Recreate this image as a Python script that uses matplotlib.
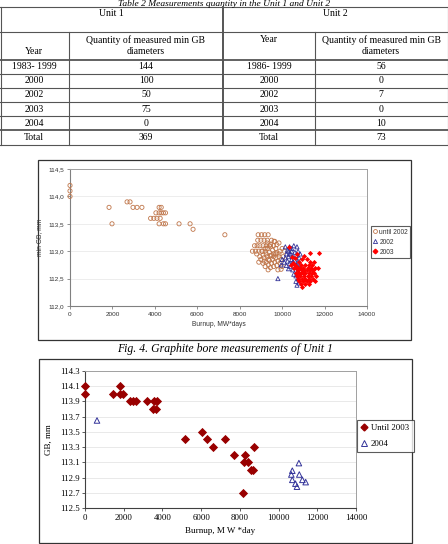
"""Table 2 and graphite bore measurements of Unit 1 / Unit 2."""

import matplotlib
matplotlib.use("Agg")
import matplotlib.pyplot as plt
from matplotlib.lines import Line2D
from matplotlib.ticker import FuncFormatter, MultipleLocator

# Table data
units = ["Unit 1", "Unit 2"]
years_u1 = ["1983- 1999", "2000", "2002", "2003", "2004", "Total"]
counts_u1 = ["144", "100", "50", "75", "0", "369"]
years_u2 = ["1986- 1999", "2000", "2002", "2003", "2004", "Total"]
counts_u2 = ["56", "0", "7", "0", "10", "73"]

# Fig. 4 data (Unit 1)
until2002_burnup = [0, 0, 0, 1840, 1980, 2690, 2830, 2970, 3160, 3390,
                    4200, 4300, 4050, 4200, 4300, 4400, 4500,
                    3800, 3950, 4100, 4250, 4200, 4400, 4500,
                    5140, 5660, 5800, 7300,
                    8870, 9030, 9180, 9340, 8850, 9000, 9150, 9300, 9620,
                    8700, 8820, 8950, 9100, 9250, 9400,
                    8600, 8750, 8900, 9050, 9200,
                    9300, 9450, 9600, 9750, 9850, 9700, 9550, 9400, 9250, 9100,
                    8950, 9000, 9150, 9300, 9450, 9600, 9750, 9900, 10000, 9850,
                    9700, 9550, 9400, 9250, 9100, 9200, 9350, 9500, 9650, 9800,
                    9950, 9900, 9750, 9600, 9450, 9340, 9800, 9950, 10050, 10100,
                    9650, 9500, 8800, 9050, 9200, 9600, 9350, 9150, 8900, 9700,
                    9500, 10000, 9850, 9450, 9300]
until2002_gb = [114.2, 114.1, 114.0, 113.8, 113.5, 113.9, 113.9, 113.8, 113.8, 113.8,
                113.8, 113.8, 113.7, 113.7, 113.7, 113.7, 113.7,
                113.6, 113.6, 113.6, 113.6, 113.5, 113.5, 113.5,
                113.5, 113.5, 113.4, 113.3,
                113.3, 113.3, 113.3, 113.3, 113.2, 113.2, 113.2, 113.2, 113.18,
                113.1, 113.1, 113.1, 113.1, 113.1, 113.1,
                113.0, 113.0, 113.0, 113.0, 113.0,
                113.05, 113.08, 113.1, 113.12, 113.15, 113.05, 113.02, 112.98, 112.95, 112.93,
                112.9, 112.85, 112.88, 112.9, 112.92, 112.95, 112.97, 113.0, 113.05, 112.9,
                112.88, 112.85, 112.83, 112.8, 112.78, 112.72, 112.75, 112.78, 112.8, 112.82,
                112.85, 112.78, 112.74, 112.72, 112.7, 112.66, 112.66, 112.67, 112.9, 113.0,
                113.18, 113.2, 112.95, 113.0, 113.05, 112.9, 112.85, 112.82, 112.8, 112.95,
                112.93, 112.72, 112.95, 113.12, 113.15]

y2002_burnup = [10150, 10350, 10300, 10450, 10550, 10700, 10200, 10400, 10600, 10750,
                10150, 10300, 10500, 10650, 10800, 10250, 10450, 10600, 10750, 10100,
                10350, 10550, 10700, 10200, 10400, 10600, 10800, 10300, 10500, 10700,
                10550, 10650, 10750, 10650, 10800, 10700, 9800, 10000, 9950, 10800,
                10450, 10250, 10850, 10500, 10350]
y2002_gb = [113.08, 113.08, 113.0, 113.05, 113.1, 113.08, 112.95, 112.95, 112.98, 113.0,
            112.88, 112.9, 112.9, 112.92, 112.88, 112.82, 112.85, 112.84, 112.8, 112.8,
            112.78, 112.78, 112.75, 112.74, 112.72, 112.7, 112.7, 112.68, 112.66, 112.62,
            112.58, 112.55, 112.5, 112.45, 112.42, 112.38, 112.5, 112.85, 112.75, 112.6,
            113.0, 113.02, 112.95, 112.8, 112.95]

y2003_burnup = [10330, 11310, 11740, 10500, 10700,
                10950, 11150, 10800, 11300, 11500,
                10600, 10900, 11100, 11250, 11400,
                10700, 10850, 11000, 11200, 11350, 11550, 11700,
                10750, 10950, 11050, 11150, 11300, 11450,
                10650, 10800, 10900, 11000, 11100, 11250, 11400, 11500,
                10700, 10850, 11050, 11200, 11350, 11600,
                10750, 10950, 11100, 11250, 11450,
                10800, 11000, 11150, 11300, 11550,
                10900, 11100, 11250, 10950,
                10550, 10400, 10600, 10450, 11050, 10700]
y2003_gb = [113.08, 112.97, 112.97, 112.78, 112.72,
            112.85, 112.85, 112.8, 112.8, 112.8,
            112.75, 112.75, 112.75, 112.75, 112.75,
            112.7, 112.7, 112.7, 112.7, 112.7, 112.7, 112.7,
            112.65, 112.65, 112.65, 112.65, 112.65, 112.65,
            112.6, 112.6, 112.6, 112.6, 112.6, 112.6, 112.6, 112.6,
            112.55, 112.55, 112.55, 112.55, 112.55, 112.55,
            112.5, 112.5, 112.5, 112.5, 112.5,
            112.45, 112.45, 112.45, 112.45, 112.45,
            112.4, 112.4, 112.4, 112.35,
            112.7, 112.75, 112.88, 112.9, 112.92, 112.95]

# Unit 2 data
until2003_burnup = [0, 1820, 0, 1430, 1790, 1960,
                    2300, 2470, 2650, 3210, 3560, 3730,
                    3500, 3680, 6030, 5190, 6310, 7250,
                    6600, 8710, 7700, 8250, 8230, 8400,
                    8570, 8680, 8140]
until2003_gb = [114.1, 114.1, 114.0, 114.0, 114.0, 114.0,
                113.9, 113.9, 113.9, 113.9, 113.9, 113.9,
                113.8, 113.8, 113.5, 113.4, 113.4, 113.4,
                113.3, 113.3, 113.2, 113.2, 113.1, 113.1,
                113.0, 113.0, 112.7]
y2004_burnup = [620, 11050, 10710, 10660, 11070, 10710, 11230, 10870, 11400, 10950]
y2004_gb = [113.65, 113.09, 112.99, 112.94, 112.94, 112.87, 112.87, 112.82, 112.84, 112.78]

W, H = 448, 544
fig = plt.figure(figsize=(W / 100, H / 100), dpi=100)

# background layer in pixel coordinates: table, frames, caption
bg = fig.add_axes([0, 0, 1, 1], zorder=0)
bg.set_xlim(0, W)
bg.set_ylim(H, 0)
bg.axis("off")

serif = "Liberation Serif"
sans = "Liberation Sans"
lc = "#555555"

bg.text(W / 2, 0.3, "Table 2 Measurements quantity in the Unit 1 and Unit 2",
        family=serif, style="italic", fontsize=6.8, ha="center", va="top")

hlines = [7, 32, 60, 73.5, 87.5, 102, 116, 130, 145]
for y in hlines:
    lw = 1.3 if y in (60, 130) else 0.8
    bg.plot([0, W], [y, y], color=lc, lw=lw)
bg.plot([0.5, 0.5], [7, 145], color=lc, lw=0.8)
bg.plot([447.5, 447.5], [7, 145], color=lc, lw=0.8)
bg.plot([223, 223], [7, 145], color=lc, lw=1.4)
bg.plot([69, 69], [32, 145], color=lc, lw=0.8)
bg.plot([315, 315], [32, 145], color=lc, lw=0.8)

tfs = 7
bg.text(111, 14, units[0], family=serif, fontsize=tfs, ha="center", va="center")
bg.text(335, 14, units[1], family=serif, fontsize=tfs, ha="center", va="center")
bg.text(34, 51, "Year", family=serif, fontsize=tfs, ha="center", va="center")
bg.text(146, 40, "Quantity of measured min GB", family=serif, fontsize=tfs, ha="center", va="center")
bg.text(146, 51, "diameters", family=serif, fontsize=tfs, ha="center", va="center")
bg.text(269, 40, "Year", family=serif, fontsize=tfs, ha="center", va="center")
bg.text(381, 40, "Quantity of measured min GB", family=serif, fontsize=tfs, ha="center", va="center")
bg.text(381, 51, "diameters", family=serif, fontsize=tfs, ha="center", va="center")
for i in range(len(years_u1)):
    yc = (hlines[i + 2] + hlines[i + 3]) / 2
    bg.text(34, yc, years_u1[i], family=serif, fontsize=tfs, ha="center", va="center")
    bg.text(146, yc, counts_u1[i], family=serif, fontsize=tfs, ha="center", va="center")
    bg.text(269, yc, years_u2[i], family=serif, fontsize=tfs, ha="center", va="center")
    bg.text(381, yc, counts_u2[i], family=serif, fontsize=tfs, ha="center", va="center")

# chart frames
bg.add_patch(plt.Rectangle((37.5, 159.5), 373, 180, fill=False, ec="#333333", lw=0.9))
bg.add_patch(plt.Rectangle((38.5, 358.5), 373, 184, fill=False, ec="#333333", lw=0.9))

bg.text(225, 349, "Fig. 4. Graphite bore measurements of Unit 1",
        family=serif, style="italic", fontsize=8.5, ha="center", va="center")


def style_axes(ax, spine_dark, grid_color):
    ax.set_facecolor("white")
    for s in ("left", "bottom"):
        ax.spines[s].set_color(spine_dark)
        ax.spines[s].set_linewidth(0.8)
    for s in ("top", "right"):
        ax.spines[s].set_color("#a0a0a0")
        ax.spines[s].set_linewidth(0.7)
    ax.grid(axis="y", color=grid_color, lw=0.5)
    ax.set_axisbelow(True)
    ax.tick_params(length=2, width=0.6, pad=2, color=spine_dark)


# ---- Chart 1 ----
ax1 = fig.add_axes([70 / W, 1 - 306 / H, 297 / W, 137 / H], zorder=1)
style_axes(ax1, "#808080", "#e6e6e6")
ax1.scatter(until2002_burnup, until2002_gb, s=9, marker="o", facecolors="none",
            edgecolors="#c0764a", linewidths=0.6, zorder=3, clip_on=False)
ax1.scatter(y2002_burnup, y2002_gb, s=9, marker="^", facecolors="none",
            edgecolors="#333399", linewidths=0.6, zorder=3, clip_on=False)
ax1.scatter(y2003_burnup, y2003_gb, s=7, marker="D", color="#ff0000",
            linewidths=0, zorder=4, clip_on=False)
ax1.set_xlim(0, 14000)
ax1.set_ylim(112.0, 114.5)
ax1.xaxis.set_major_locator(MultipleLocator(2000))
ax1.yaxis.set_major_locator(MultipleLocator(0.5))
ax1.yaxis.set_major_formatter(FuncFormatter(lambda v, p: f"{v:.1f}".replace(".", ",")))
for lab in ax1.get_xticklabels() + ax1.get_yticklabels():
    lab.set_family(sans)
    lab.set_fontsize(4.6)
    lab.set_color("#333333")
ax1.set_xlabel("Burnup, MW*days", family=sans, fontsize=4.8, color="#333333", labelpad=3)
ax1.set_ylabel("min GB, mm", family=sans, fontsize=4.8, color="#333333", labelpad=4)
h1 = [Line2D([], [], ls="none", marker="o", mfc="none", mec="#c0764a", ms=2.8, mew=0.6),
      Line2D([], [], ls="none", marker="^", mfc="none", mec="#333399", ms=3, mew=0.6),
      Line2D([], [], ls="none", marker="D", color="#ff0000", ms=2.3)]
leg1 = ax1.legend(h1, ["until 2002", "2002", "2003"], loc="center left",
                  bbox_to_anchor=(371 / W, 1 - 242 / H), bbox_transform=fig.transFigure,
                  frameon=True, fancybox=False, edgecolor="#333333",
                  prop={"family": sans, "size": 4.8}, handlelength=0.6,
                  handletextpad=0.3, borderpad=0.35, labelspacing=0.45,
                  borderaxespad=0)
leg1.get_frame().set_linewidth(0.8)
for t in leg1.get_texts():
    t.set_color("#333333")

# ---- Chart 2 ----
ax2 = fig.add_axes([85 / W, 1 - 508 / H, 271 / W, 137 / H], zorder=1)
style_axes(ax2, "#404040", "#e0e0e0")
ax2.scatter(until2003_burnup, until2003_gb, s=22, marker="D", color="#990000",
            linewidths=0, zorder=4, clip_on=False)
ax2.scatter(y2004_burnup, y2004_gb, s=16, marker="^", facecolors="none",
            edgecolors="#333399", linewidths=0.7, zorder=3, clip_on=False)
ax2.set_xlim(0, 14000)
ax2.set_ylim(112.5, 114.3)
ax2.xaxis.set_major_locator(MultipleLocator(2000))
ax2.set_yticks([112.5, 112.7, 112.9, 113.1, 113.3, 113.5, 113.7, 113.9, 114.1, 114.3])
ax2.yaxis.set_major_formatter(FuncFormatter(lambda v, p: f"{v:.1f}"))
for lab in ax2.get_xticklabels() + ax2.get_yticklabels():
    lab.set_family(serif)
    lab.set_fontsize(6.3)
ax2.set_xlabel("Burnup, M W *day", family=serif, fontsize=6.5, labelpad=4)
ax2.set_ylabel("GB, mm", family=serif, fontsize=6.5, labelpad=5)
h2 = [Line2D([], [], ls="none", marker="D", color="#990000", ms=3.5),
      Line2D([], [], ls="none", marker="^", mfc="none", mec="#333399", ms=4, mew=0.7)]
leg2 = ax2.legend(h2, ["Until 2003", "2004"], loc="center left",
                  bbox_to_anchor=(357 / W, 1 - 436 / H), bbox_transform=fig.transFigure,
                  frameon=True, fancybox=False, edgecolor="#333333",
                  prop={"family": serif, "size": 6.3}, handlelength=0.7,
                  handletextpad=0.4, borderpad=0.5, labelspacing=0.8,
                  borderaxespad=0)
leg2.get_frame().set_linewidth(0.8)

fig.savefig("out.png", dpi=100)
